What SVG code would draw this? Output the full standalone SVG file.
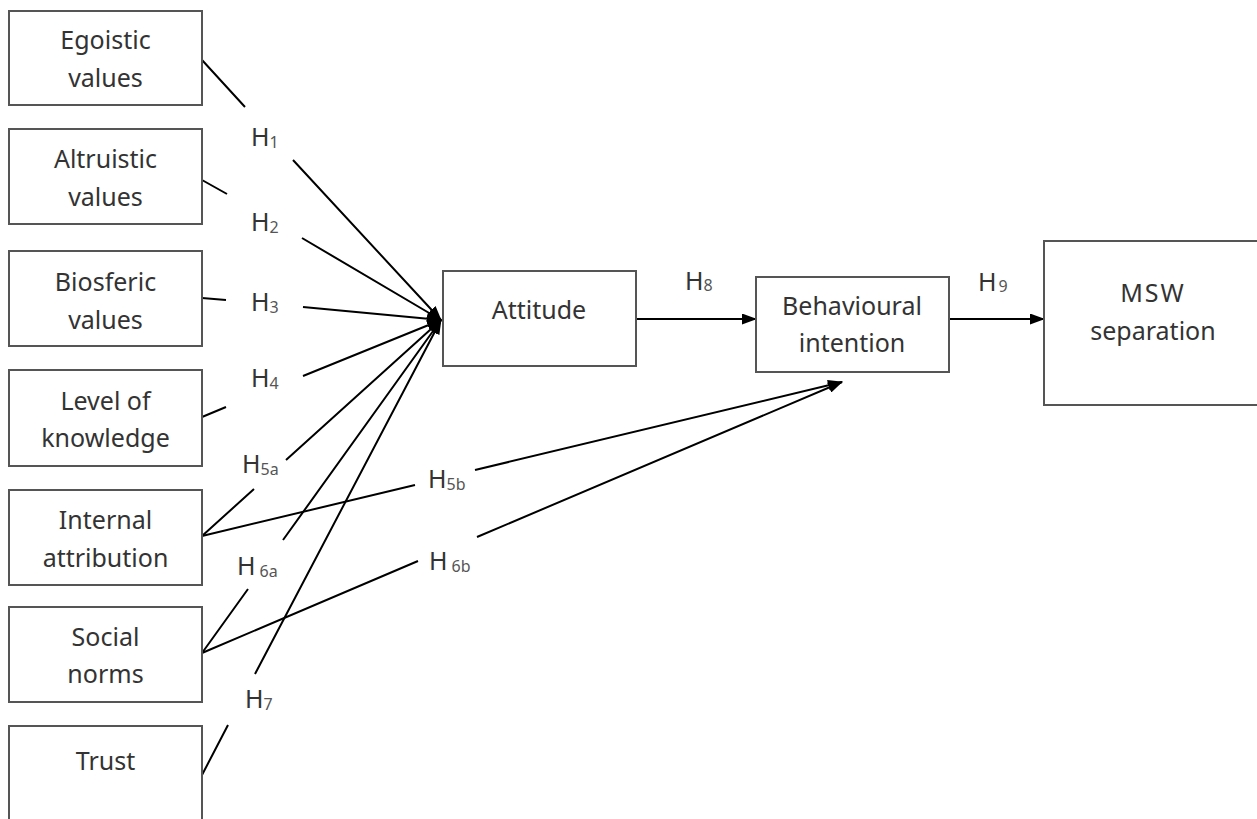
<svg xmlns="http://www.w3.org/2000/svg" width="1257" height="819" viewBox="0 0 1257 819">
<style>
  .box { fill: #ffffff; stroke: #555555; stroke-width: 2; }
  .txt { font-family: "Noto Sans", "Open Sans", sans-serif; font-size: 25px; fill: #333333; text-anchor: middle; }
  .lbl { font-family: "Noto Sans", "Open Sans", sans-serif; font-size: 25px; fill: #333333; }
  .sub { font-size: 16px; fill: #555555; }
  .con { fill: none; stroke: #000000; stroke-width: 2; }
</style>
<defs>
  <marker id="arr" markerUnits="userSpaceOnUse" markerWidth="15" markerHeight="11" refX="14" refY="5.5" orient="auto">
    <path d="M0,0 L15,5.5 L0,11 z" fill="#000000"/>
  </marker>
</defs>
<rect width="1257" height="819" fill="#ffffff"/>

<g id="connectors">
  <path class="con" d="M202,60 L245,107 M293,160 L441,320" marker-end="url(#arr)"/>
  <path class="con" d="M202,180 L227,194 M302,238 L441,320" marker-end="url(#arr)"/>
  <path class="con" d="M202,298 L226,300 M303,307 L441,320" marker-end="url(#arr)"/>
  <path class="con" d="M202,417 L226,407 M303,376 L441,320" marker-end="url(#arr)"/>
  <path class="con" d="M202,536 L254,489 M286,460 L441,320" marker-end="url(#arr)"/>
  <path class="con" d="M202,653 L248,589 M283,540 L441,320" marker-end="url(#arr)"/>
  <path class="con" d="M202,775 L228,725 M255,674 L441,320" marker-end="url(#arr)"/>
  <path class="con" d="M202,536 L415,485 M475,470 L842,382" marker-end="url(#arr)"/>
  <path class="con" d="M202,653 L418,561 M477,537 L842,382" marker-end="url(#arr)"/>
  <path class="con" d="M636,319 L756,319" marker-end="url(#arr)"/>
  <path class="con" d="M949,319 L1044,319" marker-end="url(#arr)"/>
</g>

<g id="labels">
  <text class="lbl" x="251" y="146">H<tspan class="sub" dy="2">1</tspan></text>
  <text class="lbl" x="251" y="231">H<tspan class="sub" dy="2">2</tspan></text>
  <text class="lbl" x="251" y="311">H<tspan class="sub" dy="2">3</tspan></text>
  <text class="lbl" x="251" y="387">H<tspan class="sub" dy="2">4</tspan></text>
  <text class="lbl" x="242" y="473">H<tspan class="sub" dy="2">5a</tspan></text>
  <text class="lbl" x="237" y="575">H<tspan class="sub" dx="4" dy="2">6a</tspan></text>
  <text class="lbl" x="245" y="708">H<tspan class="sub" dy="2">7</tspan></text>
  <text class="lbl" x="428" y="488">H<tspan class="sub" dy="2">5b</tspan></text>
  <text class="lbl" x="429" y="570">H<tspan class="sub" dx="4" dy="2">6b</tspan></text>
  <text class="lbl" x="685" y="290">H<tspan class="sub" dy="1">8</tspan></text>
  <text class="lbl" x="978" y="291">H<tspan class="sub" dx="2" dy="1">9</tspan></text>
</g>

<g id="node-egoistic">
  <rect class="box" x="9" y="11" width="193" height="94"/>
  <text class="txt" x="105.5" y="49">Egoistic</text>
  <text class="txt" x="105.5" y="87">values</text>
</g>
<g id="node-altruistic">
  <rect class="box" x="9" y="129" width="193" height="95"/>
  <text class="txt" x="105.5" y="168">Altruistic</text>
  <text class="txt" x="105.5" y="206">values</text>
</g>
<g id="node-biosferic">
  <rect class="box" x="9" y="251" width="193" height="95"/>
  <text class="txt" x="105.5" y="291">Biosferic</text>
  <text class="txt" x="105.5" y="329">values</text>
</g>
<g id="node-knowledge">
  <rect class="box" x="9" y="370" width="193" height="96"/>
  <text class="txt" x="105.5" y="410">Level of</text>
  <text class="txt" x="105.5" y="447">knowledge</text>
</g>
<g id="node-internal">
  <rect class="box" x="9" y="490" width="193" height="95"/>
  <text class="txt" x="105.5" y="529">Internal</text>
  <text class="txt" x="105.5" y="567">attribution</text>
</g>
<g id="node-social">
  <rect class="box" x="9" y="607" width="193" height="95"/>
  <text class="txt" x="105.5" y="646">Social</text>
  <text class="txt" x="105.5" y="683">norms</text>
</g>
<g id="node-trust">
  <rect class="box" x="9" y="726" width="193" height="100"/>
  <text class="txt" x="105.5" y="770">Trust</text>
</g>
<g id="node-attitude">
  <rect class="box" x="443" y="271" width="193" height="95"/>
  <text class="txt" x="539" y="319">Attitude</text>
</g>
<g id="node-intention">
  <rect class="box" x="756" y="277" width="193" height="95"/>
  <text class="txt" x="852" y="315">Behavioural</text>
  <text class="txt" x="852" y="352">intention</text>
</g>
<g id="node-msw">
  <rect class="box" x="1044" y="241" width="220" height="164"/>
  <text class="txt" x="1153" y="302" letter-spacing="2">MSW</text>
  <text class="txt" x="1153" y="340">separation</text>
</g>
</svg>
